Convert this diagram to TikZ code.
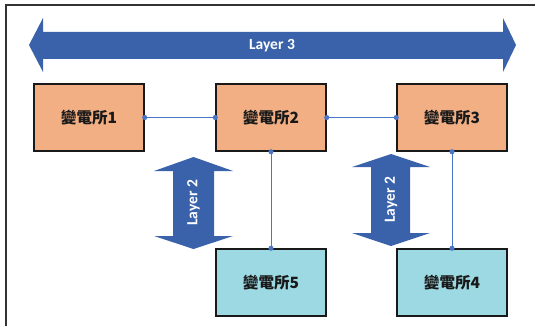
\documentclass[tikz,border=0pt]{standalone}
\usepackage{fontspec}
\newfontfamily\cjk{Noto Sans CJK TC}
\newfontfamily\latinfont{Carlito}
\usetikzlibrary{arrows.meta}
\definecolor{arrowblue}{HTML}{3A62AA}
\definecolor{linkblue}{HTML}{4A76C8}
\definecolor{boxorange}{HTML}{F2AF84}
\definecolor{boxcyan}{HTML}{9CD9E2}
\definecolor{framegray}{HTML}{333333}
\tikzset{
  station/.style={draw=black!90, line width=1.5pt, minimum width=110pt, minimum height=67pt, inner sep=0pt,
    font=\cjk\bfseries\fontsize{15.5}{15.5}\selectfont, text=black!90},
  upper/.style={station, fill=boxorange},
  lower/.style={station, fill=boxcyan},
  link/.style={draw=linkblue, line width=0.9pt, {Circle[length=5pt]}-{Circle[length=5pt]}, shorten <=-2.5pt, shorten >=-2.5pt},
  bigarrow/.style={fill=arrowblue, draw=none},
  layerlabel/.style={text=white, font=\latinfont\bfseries\fontsize{15.5}{15.5}\selectfont, inner sep=0pt}
}
\begin{document}
\begin{tikzpicture}[x=1pt,y=-1pt]
\useasboundingbox (0,0) rectangle (537,326);
% frame
\draw[framegray, line width=1.4pt] (6,326) -- (6,5) -- (535,5);
% Layer 3 arrow
\fill[bigarrow] (29,45) -- (43,18) -- (43,32) -- (503,32) -- (503,18) -- (516,45) -- (503,72) -- (503,59) -- (43,59) -- (43,72) -- cycle;
\node[layerlabel] (l3) at (272,45.5) {Layer 3};
% Layer 2 arrows
\fill[bigarrow] (193.5,157) -- (233,171) -- (214,171) -- (214,236) -- (233,236) -- (193.5,249) -- (154,236) -- (173,236) -- (173,171) -- (154,171) -- cycle;
\node[layerlabel, rotate=90] (l2a) at (193.5,203) {Layer 2};
\fill[bigarrow] (391,154) -- (430,167) -- (410,167) -- (410,233) -- (430,233) -- (391,246) -- (352,233) -- (371,233) -- (371,167) -- (352,167) -- cycle;
\node[layerlabel, rotate=90] (l2b) at (391,200) {Layer 2};
% stations
\node[upper] (s1) at (89,117.5) {變電所1};
\node[upper] (s2) at (271,117.5) {變電所2};
\node[upper] (s3) at (452,117.5) {變電所3};
\node[lower] (s5) at (271,282.5) {變電所5};
\node[lower] (s4) at (452,282.5) {變電所4};
% links
\draw[link] (s1.east) -- (s2.west);
\draw[link] (s2.east) -- (s3.west);
\draw[link] (s2.south) -- (s5.north);
\draw[link] (s3.south) -- (s4.north);
\end{tikzpicture}
\end{document}
